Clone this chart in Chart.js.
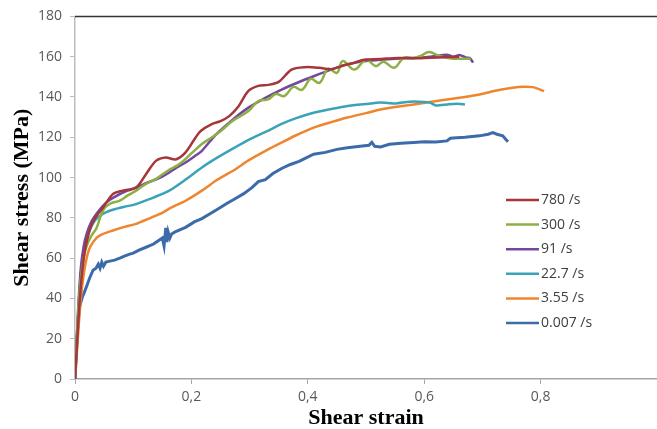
<!DOCTYPE html>
<html>
<head>
<meta charset="utf-8">
<script src="https://cdn.jsdelivr.net/npm/chart.js@4/dist/chart.umd.min.js"></script>
<style>
  html, body { margin: 0; padding: 0; background: #fff; }
</style>
</head>
<body>
<canvas id="chart" width="657" height="429"></canvas>
<script>
// Shear stress (MPa) vs shear strain, one pair of arrays per strain rate
const seriesLabels = ['780 /s', '300 /s', '91 /s', '22.7 /s', '3.55 /s', '0.007 /s'];
const seriesColors = ['#A5373A', '#8DB046', '#74499B', '#3AA3B8', '#EE8630', '#3C6BAA'];

const strain780 = [0, 0.003, 0.006, 0.01, 0.015, 0.02, 0.028, 0.037, 0.048, 0.065, 0.082, 0.105, 0.122, 0.139, 0.156, 0.173, 0.19, 0.207, 0.216, 0.235, 0.25, 0.265, 0.28, 0.298, 0.315, 0.332, 0.35, 0.372, 0.395, 0.42, 0.44, 0.46, 0.48, 0.497, 0.525, 0.554, 0.58, 0.61, 0.64, 0.66];
const stress780 = [0, 15, 30, 46, 60, 68, 76, 81, 85, 91.8, 93.5, 95.1, 101.7, 108.3, 110, 109, 112.5, 119.8, 123.1, 126.5, 128, 130.5, 135, 143, 145.5, 146, 147.5, 153.6, 154.8, 154.5, 153.8, 155.5, 157, 158.5, 158.8, 159.4, 159.2, 159.5, 159.8, 160];

const strain300 = [0, 0.003, 0.006, 0.01, 0.015, 0.02, 0.028, 0.037, 0.048, 0.06, 0.077, 0.09, 0.105, 0.12, 0.14, 0.16, 0.18, 0.2, 0.218, 0.23, 0.25, 0.27, 0.298, 0.315, 0.332, 0.345, 0.36, 0.375, 0.39, 0.405, 0.42, 0.435, 0.45, 0.46, 0.48, 0.5, 0.517, 0.53, 0.548, 0.565, 0.582, 0.595, 0.608, 0.627, 0.65, 0.667, 0.68];
const stress300 = [0, 20, 36, 50, 60, 66, 71, 75, 83.6, 87, 88.5, 91, 93.5, 96.5, 99.5, 103.5, 106.8, 112, 116.7, 119, 123, 128, 133, 138, 138.8, 141.5, 140.5, 145, 143.5, 149, 147, 154, 152, 157.8, 153.6, 158.5, 155.3, 157.5, 154.5, 159.4, 159.4, 160.5, 162.3, 160.2, 159, 159, 159];

const strain91 = [0, 0.003, 0.006, 0.01, 0.015, 0.02, 0.028, 0.037, 0.048, 0.06, 0.077, 0.09, 0.105, 0.12, 0.133, 0.15, 0.162, 0.175, 0.19, 0.205, 0.218, 0.241, 0.27, 0.298, 0.327, 0.355, 0.383, 0.41, 0.44, 0.468, 0.5, 0.525, 0.55, 0.582, 0.61, 0.639, 0.65, 0.66, 0.667, 0.673, 0.678, 0.682, 0.684];
const stress91 = [0, 20, 38, 55, 66, 72, 78, 82, 86, 89, 91.8, 93.5, 95, 97, 98.4, 100.5, 102.5, 105, 107.5, 110.5, 113.3, 121, 128.5, 134.7, 139.6, 143.7, 147.2, 150.3, 153.6, 156.3, 157.8, 158.5, 159, 159.4, 160, 161, 160, 160.8, 160.2, 159.5, 159.4, 158, 157];

const strain22 = [0, 0.003, 0.006, 0.01, 0.015, 0.02, 0.026, 0.035, 0.048, 0.065, 0.085, 0.105, 0.13, 0.162, 0.19, 0.218, 0.245, 0.275, 0.3, 0.33, 0.355, 0.38, 0.41, 0.44, 0.468, 0.5, 0.525, 0.55, 0.57, 0.582, 0.6, 0.61, 0.62, 0.64, 0.655, 0.67];
const stress22 = [0, 18, 35, 52, 64, 70, 74.5, 79, 82, 84, 85.5, 86.8, 89.5, 93.5, 99, 105, 110, 115, 119, 123, 126.6, 129.5, 132.2, 134, 135.5, 136.5, 137.2, 136.8, 137.5, 137.7, 137.5, 137.2, 135.8, 136.3, 136.6, 136.3];

const strain355 = [0, 0.003, 0.006, 0.01, 0.015, 0.02, 0.026, 0.037, 0.048, 0.065, 0.085, 0.105, 0.13, 0.15, 0.162, 0.19, 0.218, 0.245, 0.275, 0.298, 0.332, 0.355, 0.38, 0.41, 0.44, 0.468, 0.5, 0.525, 0.55, 0.582, 0.61, 0.639, 0.67, 0.695, 0.72, 0.752, 0.77, 0.787, 0.806];
const stress355 = [0, 12, 25, 40, 52, 60, 65.5, 70, 72, 73.7, 75.5, 77, 80, 82.5, 84.6, 88.5, 93.5, 99, 104, 108.5, 114, 117.4, 121, 124.8, 127.5, 129.8, 132, 133.8, 135, 136.3, 137.5, 138.8, 140, 141.2, 143, 144.6, 145.1, 144.9, 142.9];

const strain0007 = [0, 0.002, 0.004, 0.006, 0.008, 0.01, 0.013, 0.016, 0.02, 0.025, 0.031, 0.036, 0.04, 0.043, 0.046, 0.049, 0.053, 0.06, 0.068, 0.077, 0.085, 0.094, 0.1, 0.11, 0.122, 0.135, 0.145, 0.15, 0.153, 0.156, 0.158, 0.16, 0.163, 0.166, 0.172, 0.19, 0.205, 0.218, 0.232, 0.247, 0.26, 0.275, 0.29, 0.304, 0.315, 0.327, 0.34, 0.355, 0.37, 0.385, 0.41, 0.43, 0.45, 0.468, 0.49, 0.505, 0.51, 0.515, 0.525, 0.54, 0.56, 0.582, 0.6, 0.62, 0.639, 0.645, 0.656, 0.67, 0.695, 0.71, 0.718, 0.725, 0.735, 0.74, 0.744];
const stress0007 = [0, 12, 22, 30, 36, 38, 41, 43, 46, 50, 54, 55, 57, 55, 58, 56, 58, 58.5, 59, 60, 61, 62, 62.5, 64, 65.4, 67, 69, 70, 66, 75, 68, 73, 70, 72, 73, 75.3, 78, 79.6, 82, 84.6, 87, 89.5, 92, 95, 98, 99, 102, 104.5, 106.5, 108, 111.6, 112.5, 114, 114.8, 115.5, 116, 117.5, 115.5, 115.2, 116.5, 117, 117.4, 117.8, 117.6, 118.2, 119.5, 119.8, 120, 120.7, 121.5, 122.3, 121.5, 120.7, 119, 117.8];

const yTicks = [0, 20, 40, 60, 80, 100, 120, 140, 160, 180];
const xTicks = [0, 0.2, 0.4, 0.6, 0.8];

const strains = [strain780, strain300, strain91, strain22, strain355, strain0007];
const stresses = [stress780, stress300, stress91, stress22, stress355, stress0007];
const tensions = [0.3, 0.4, 0.2, 0.2, 0.2, 0];

function toPoints(xs, ys) {
  return xs.map((x, i) => ({ x, y: ys[i] }));
}

const datasets = seriesLabels.map((label, i) => ({
  label,
  data: toPoints(strains[i], stresses[i]),
  borderColor: seriesColors[i],
  borderWidth: i === 5 ? 3 : 2.5,
  pointRadius: 0,
  tension: tensions[i],
  fill: false
}));

// legend drawn inside the plot, lines + labels
const sideLegend = {
  id: 'sideLegend',
  afterDraw(chart) {
    const ctx = chart.ctx;
    ctx.save();
    ctx.font = '14px "Open Sans"';
    ctx.textBaseline = 'middle';
    ctx.textAlign = 'left';
    chart.data.datasets.forEach((ds, i) => {
      const y = 200 + i * 24.6;
      ctx.strokeStyle = ds.borderColor;
      ctx.lineWidth = 2.5;
      ctx.beginPath();
      ctx.moveTo(506, y);
      ctx.lineTo(539, y);
      ctx.stroke();
      ctx.fillStyle = '#404040';
      ctx.fillText(ds.label, 541, y);
    });
    ctx.restore();
  }
};

// dark rule along the top of the plot
const topRule = {
  id: 'topRule',
  afterDraw(chart) {
    const { ctx, chartArea: a } = chart;
    ctx.save();
    ctx.strokeStyle = '#333333';
    ctx.lineWidth = 1.5;
    ctx.beginPath();
    ctx.moveTo(a.left, a.top);
    ctx.lineTo(a.right + 10, a.top);
    ctx.stroke();
    ctx.restore();
  }
};

new Chart(document.getElementById('chart'), {
  type: 'line',
  data: { datasets },
  plugins: [sideLegend, topRule],
  options: {
    responsive: false,
    animation: false,
    layout: { padding: { top: 15, right: -5, left: 0, bottom: 0 } },
    plugins: { legend: { display: false }, tooltip: { enabled: false } },
    scales: {
      x: {
        type: 'linear',
        min: 0,
        max: 1,
        afterBuildTicks: s => { s.ticks = xTicks.map(v => ({ value: v })); },
        afterFit: s => { s.height = 50; },
        grid: { drawOnChartArea: false, drawTicks: true, tickLength: 5, color: '#A6A6A6' },
        border: { color: '#A6A6A6', width: 1.5 },
        ticks: {
          color: '#595959',
          font: { family: 'Open Sans', size: 14 },
          padding: 5,
          maxRotation: 0,
          callback: v => v === 0 ? '0' : v.toFixed(1).replace('.', ',')
        },
        title: {
          display: true,
          text: 'Shear strain',
          color: '#000',
          font: { family: 'Liberation Serif', size: 22, weight: 'bold', lineHeight: 1 },
          padding: { top: 0, bottom: 0 }
        }
      },
      y: {
        min: 0,
        max: 180,
        afterBuildTicks: s => { s.ticks = yTicks.map(v => ({ value: v })); },
        afterFit: s => { s.width = 75; },
        grid: { drawOnChartArea: false, drawTicks: true, tickLength: 5, color: '#BDBDBD' },
        border: { color: '#BDBDBD', width: 1.5 },
        ticks: {
          color: '#595959',
          font: { family: 'Open Sans', size: 14 },
          padding: 8
        },
        title: {
          display: true,
          text: 'Shear stress (MPa)',
          color: '#000',
          font: { family: 'Liberation Serif', size: 22, weight: 'bold', lineHeight: 1 },
          padding: { top: 11, bottom: 0 }
        }
      }
    }
  }
});
</script>
</body>
</html>
